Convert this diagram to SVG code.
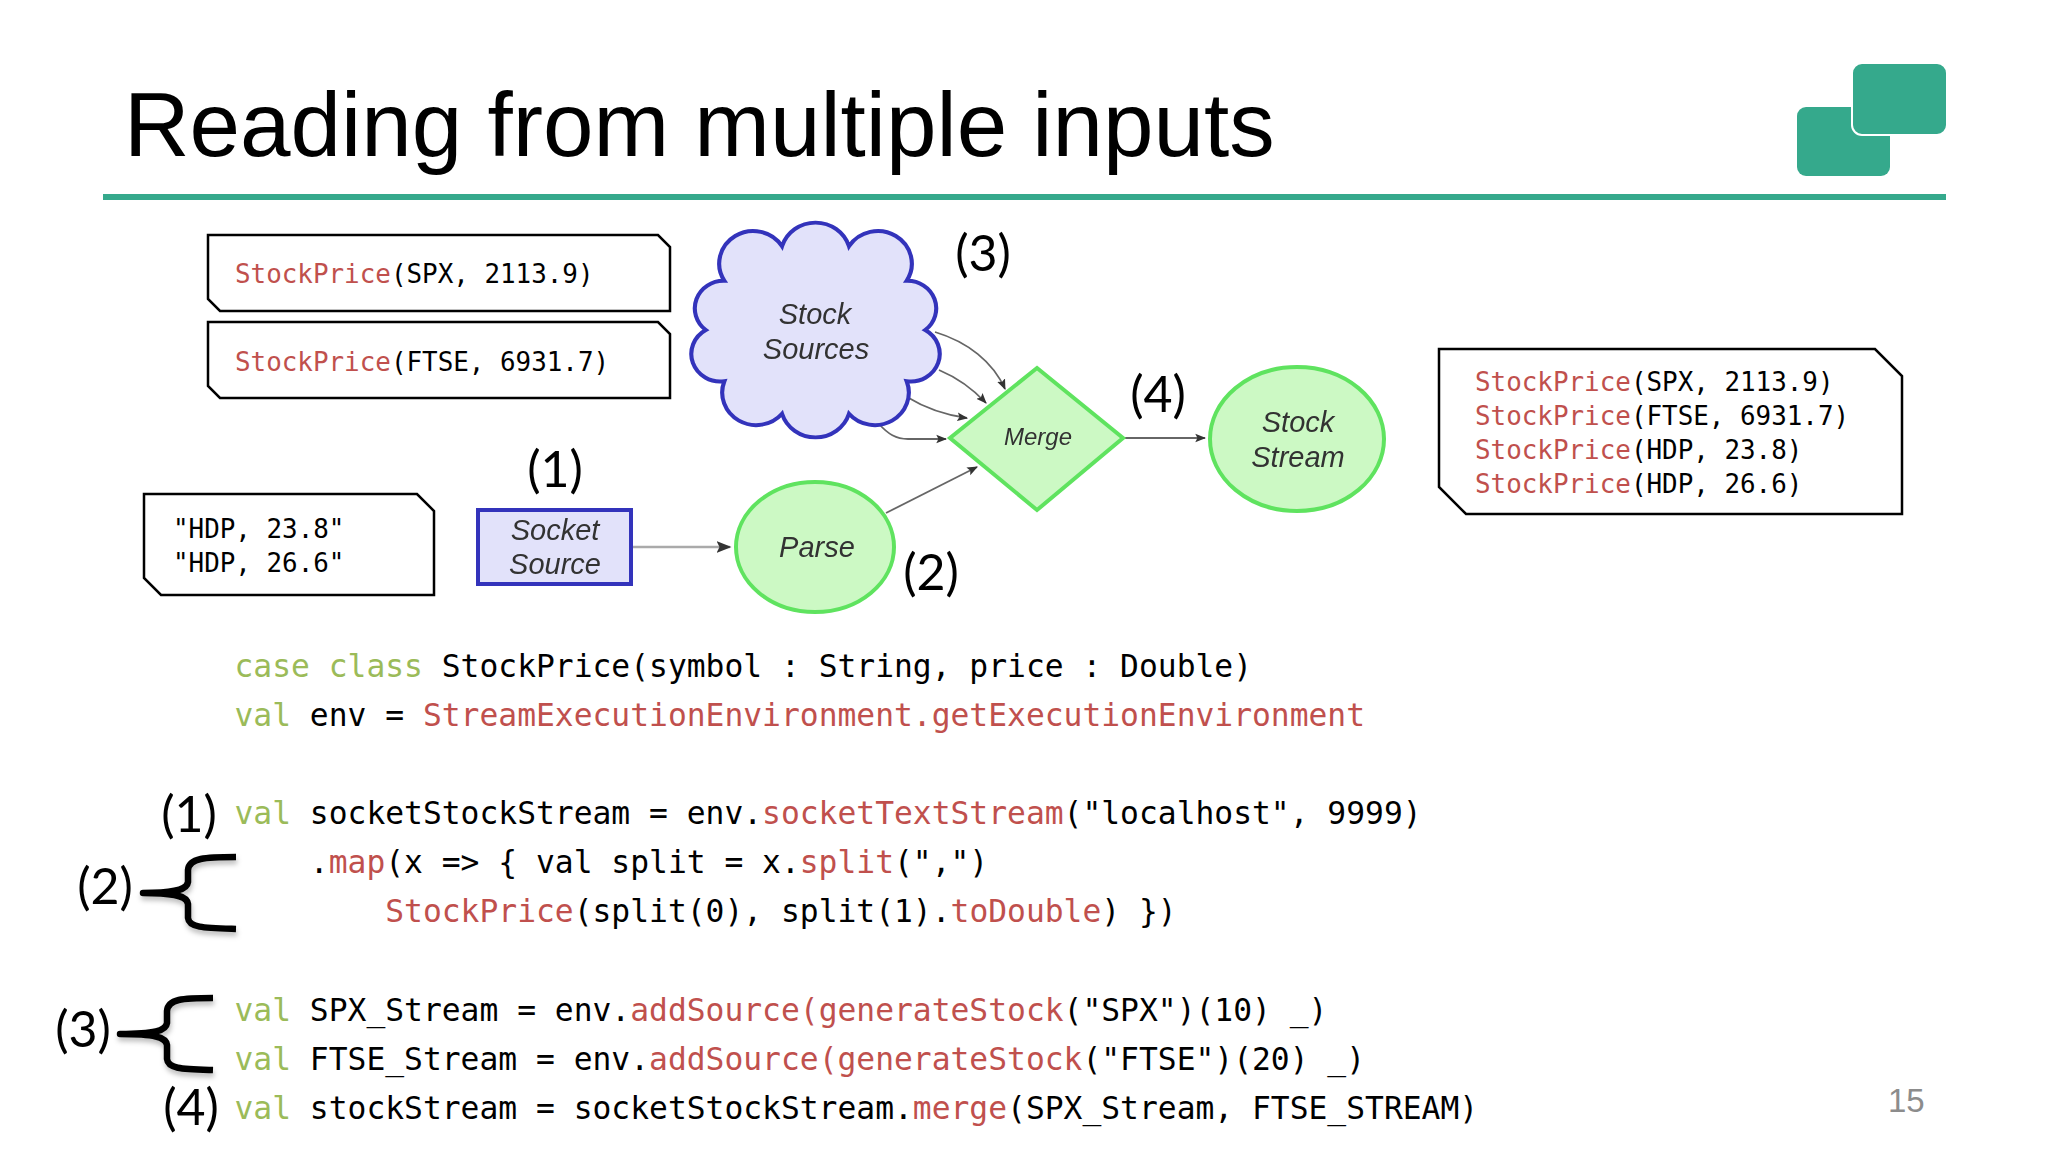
<svg xmlns="http://www.w3.org/2000/svg" width="2048" height="1152" viewBox="0 0 2048 1152">
<style>
.code{font-family:"DejaVu Sans Mono","Liberation Mono",monospace;fill:#000;white-space:pre}
.c{font-size:31.3px}
.b{font-size:25.9px}
.k{fill:#9bbb59}
.r{fill:#c0504d}
.note{fill:#fff;stroke:#000;stroke-width:2.5}
.num{font-family:Lato,"Open Sans",sans-serif;font-size:50px;fill:#000;text-anchor:middle}
.lbl{font-family:"Liberation Sans",Arial,sans-serif;font-style:italic;font-size:29px;fill:#333;text-anchor:middle;filter:url(#soft)}
.green{fill:#ccf9c4;stroke:#5fe35f;stroke-width:4}
.blue{fill:#e2e2fa;stroke:#3333bb;stroke-width:4}
.edge{fill:none;stroke:#666;stroke-width:1.8;marker-end:url(#ah)}
.brace{fill:none;stroke:#000;stroke-width:6.5;stroke-linejoin:round;filter:url(#shadow)}
</style>
<defs>
<marker id="ah" viewBox="0 0 10 10" refX="9" refY="5" markerWidth="6" markerHeight="6" markerUnits="strokeWidth" orient="auto"><path d="M0 1 L10 5 L0 9 L2 5 Z" fill="#333"/></marker>
<filter id="soft" x="-10%" y="-20%" width="120%" height="140%"><feGaussianBlur stdDeviation="0.5"/></filter>
<filter id="shadow" x="-20%" y="-20%" width="140%" height="140%"><feDropShadow dx="1" dy="4" stdDeviation="2.5" flood-color="#000" flood-opacity="0.25"/></filter>
</defs>
<rect width="2048" height="1152" fill="#fff"/>

<g id="title"><text x="124" y="156" font-family="'Liberation Sans',Arial,sans-serif" font-size="90.8" fill="#000">Reading from multiple inputs</text></g>
<rect id="title-rule" x="103" y="194" width="1843" height="6" fill="#35a98c"/>
<g id="logo">
<rect x="1797" y="107" width="93" height="69" rx="9" fill="#35a98c"/>
<rect x="1852" y="63" width="95" height="72" rx="10" fill="#35a98c" stroke="#fff" stroke-width="2"/>
</g>

<g id="connectors">
<path class="edge" d="M935 332 C968 342 993 362 1005 389"/>
<path class="edge" d="M939 370 C958 378 973 389 986 403"/>
<path class="edge" d="M907 397 C925 408 945 415 967 418"/>
<path class="edge" d="M879 424 C888 434 896 439 908 439 L946 439"/>
<path class="edge" d="M886 513 L977 467"/>
<path class="edge" d="M1124 438 L1205 438"/>
<path class="edge" style="stroke:#aaa;stroke-width:2.5" d="M632 547 L730 547"/>
</g>

<g id="note-spx">
<path class="note" d="M208 235 H658 L670 247 V311 H220 L208 299 Z"/>
<text class="code b" x="235" y="283"><tspan class="r">StockPrice</tspan>(SPX, 2113.9)</text>
</g>
<g id="note-ftse">
<path class="note" d="M208 322 H658 L670 334 V398 H220 L208 386 Z"/>
<text class="code b" x="235" y="371"><tspan class="r">StockPrice</tspan>(FTSE, 6931.7)</text>
</g>
<g id="note-hdp">
<path class="note" d="M144 494 H417 L434 511 V595 H161 L144 578 Z"/>
<text class="code b" x="173" y="538">"HDP, 23.8"</text>
<text class="code b" x="173" y="572">"HDP, 26.6"</text>
</g>
<g id="note-output">
<path class="note" d="M1439 349 H1875 L1902 376 V514 H1466 L1439 487 Z"/>
<text class="code b" x="1475" y="391"><tspan class="r">StockPrice</tspan>(SPX, 2113.9)</text>
<text class="code b" x="1475" y="425"><tspan class="r">StockPrice</tspan>(FTSE, 6931.7)</text>
<text class="code b" x="1475" y="459"><tspan class="r">StockPrice</tspan>(HDP, 23.8)</text>
<text class="code b" x="1475" y="493"><tspan class="r">StockPrice</tspan>(HDP, 26.6)</text>
</g>

<g id="stock-sources">
<path class="blue" transform="translate(815 330) scale(1.03 .985) translate(-815 -330)" d="M783 245 A34 34 0 0 1 848 245 A33 33 0 0 1 904 280 A28 28 0 0 1 922 330 A28 28 0 0 1 904 382 A33 33 0 0 1 848 415 A34 34 0 0 1 783 415 A33 33 0 0 1 727 382 A28 28 0 0 1 709 330 A28 28 0 0 1 727 280 A33 33 0 0 1 783 245 Z"/>
<text class="lbl" x="815" y="324">Stock</text>
<text class="lbl" x="816" y="359">Sources</text>
</g>
<g id="socket-source">
<rect class="blue" x="478" y="510" width="153" height="74"/>
<text class="lbl" x="555" y="540">Socket</text>
<text class="lbl" x="555" y="574">Source</text>
</g>
<g id="parse">
<ellipse class="green" cx="815" cy="547" rx="79" ry="65"/>
<text class="lbl" x="817" y="557">Parse</text>
</g>
<g id="merge">
<path class="green" d="M1037 368 L1123 438 L1037 510 L950 438 Z"/>
<text class="lbl" style="font-size:24px" x="1038" y="445">Merge</text>
</g>
<g id="stock-stream">
<ellipse class="green" cx="1297" cy="439" rx="87" ry="72"/>
<text class="lbl" x="1298" y="432">Stock</text>
<text class="lbl" x="1298" y="467">Stream</text>
</g>

<g id="callouts">
<text class="num" x="983" y="271">(3)</text>
<text class="num" x="1158" y="412">(4)</text>
<text class="num" x="931" y="590">(2)</text>
<text class="num" x="555" y="487">(1)</text>
<text class="num" x="189" y="832">(1)</text>
<text class="num" x="105" y="904">(2)</text>
<text class="num" x="83" y="1047">(3)</text>
<text class="num" x="191" y="1125">(4)</text>
</g>
<g id="braces">
<path class="brace" d="M236 857 C205 857 189 858 188 870 V882 C187 890 175 893 143 893 C175 893 187 896 188 904 V918 C189 928 205 928 236 929"/>
<path class="brace" d="M213 998 C182 998 168 999 167 1011 V1023 C166 1031 154 1034 120 1034 C154 1034 166 1037 167 1045 V1059 C168 1069 182 1069 213 1070"/>
</g>

<g id="code">
<text class="code c" x="234.5" y="677"><tspan class="k">case class</tspan> StockPrice(symbol : String, price : Double)</text>
<text class="code c" x="234.5" y="726"><tspan class="k">val</tspan> env = <tspan class="r">StreamExecutionEnvironment.getExecutionEnvironment</tspan></text>
<text class="code c" x="234.5" y="824"><tspan class="k">val</tspan> socketStockStream = env.<tspan class="r">socketTextStream</tspan>("localhost", 9999)</text>
<text class="code c" x="234.5" y="873">    .<tspan class="r">map</tspan>(x =&gt; { val split = x.<tspan class="r">split</tspan>(",")</text>
<text class="code c" x="234.5" y="922">        <tspan class="r">StockPrice</tspan>(split(0), split(1).<tspan class="r">toDouble</tspan>) })</text>
<text class="code c" x="234.5" y="1021"><tspan class="k">val</tspan> SPX_Stream = env.<tspan class="r">addSource(generateStock</tspan>("SPX")(10) _)</text>
<text class="code c" x="234.5" y="1070"><tspan class="k">val</tspan> FTSE_Stream = env.<tspan class="r">addSource(generateStock</tspan>("FTSE")(20) _)</text>
<text class="code c" x="234.5" y="1119"><tspan class="k">val</tspan> stockStream = socketStockStream.<tspan class="r">merge</tspan>(SPX_Stream, FTSE_STREAM)</text>
</g>
<text id="page-number" x="1888" y="1112" font-family="'Liberation Sans',Arial,sans-serif" font-size="33" fill="#8c8c8c">15</text>
</svg>
